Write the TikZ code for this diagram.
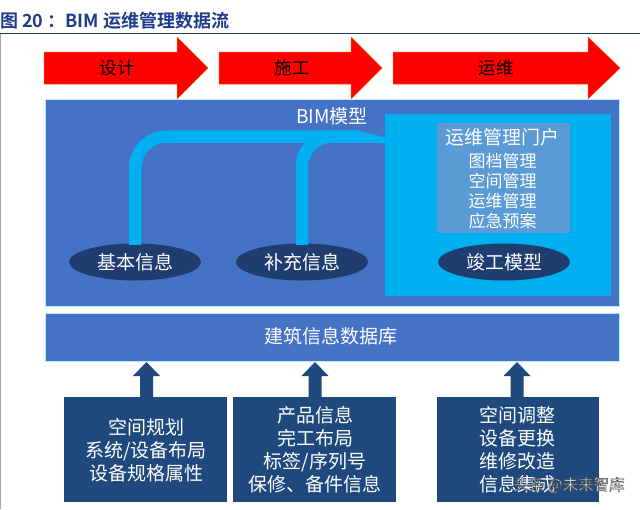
\documentclass[tikz,border=0pt]{standalone}
\usepackage{fontspec}
\setmainfont{Noto Sans CJK SC}[BoldFont={Noto Sans CJK SC Bold}]
\usetikzlibrary{shapes.geometric}
\definecolor{boxblue}{HTML}{4472C4}
\definecolor{cyanbox}{HTML}{00B0F0}
\definecolor{panel}{HTML}{5B9BD5}
\definecolor{navyell}{HTML}{1F3E6F}
\definecolor{navybox}{HTML}{1F497D}
\definecolor{titleblue}{HTML}{1F3C8C}
\definecolor{rulenavy}{HTML}{1F3864}
\definecolor{arrowred}{HTML}{FF0000}
\newcommand{\fs}[2]{\fontsize{#1}{#2}\selectfont}
\newcommand{\outlinedtext}[1]{\special{pdf:literal 0.25 0.25 0.25 RG 0.45 w 2 Tr}#1\special{pdf:literal 0 Tr}}
\tikzset{
  phase/.style={fill=arrowred, draw=orange!70!red, line width=0.5pt},
  phaselabel/.style={text=black, font=\fs{17.5}{20}},
  infoell/.style={ellipse, fill=navyell, minimum width=132pt, minimum height=37pt, inner sep=0pt, text=white, font=\fs{19}{20}},
  pipe/.style={draw=cyanbox, line width=12.5pt},
  srcbox/.style={rectangle, fill=navybox, inner sep=0pt},
  srctext/.style={text=white, align=center, font=\fs{19}{23}},
  uparrow/.style={fill=navybox},
}
\begin{document}
\begin{tikzpicture}[x=1pt,y=-1pt]
\useasboundingbox (0,0) rectangle (640,509);
\fill[white] (0,0) rectangle (640,509);
% title
\node[anchor=west, inner sep=0pt, text=titleblue, font=\bfseries\fs{18}{20}] (title) at (0,21) {图 20 ：BIM 运维管理数据流};
\draw[rulenavy, line width=1.3pt] (0,33.5) -- (640,33.5);
\draw[gray!70, line width=0.8pt] (0.4,33.5) -- (0.4,509);
% phase arrows
\fill[phase] (44,52) -- (177,52) -- (177,37) -- (208,68) -- (177,99) -- (177,84) -- (44,84) -- cycle;
\node[phaselabel] (p1) at (117,68) {设计};
\fill[phase] (219,52) -- (351,52) -- (351,37) -- (382,68) -- (351,99) -- (351,84) -- (219,84) -- cycle;
\node[phaselabel] (p2) at (292,68) {施工};
\fill[phase] (393,52) -- (588,52) -- (588,37) -- (620,68) -- (588,99) -- (588,84) -- (393,84) -- cycle;
\node[phaselabel] (p3) at (496,68) {运维};
% BIM model box
\node[rectangle, fill=boxblue, draw=blue!20!cyan!30, line width=0.6pt, minimum width=574pt, minimum height=207pt, inner sep=0pt, anchor=north west] (bim) at (44.5,99) {};
\node[text=white, font=\fs{19}{20}] (bimlabel) at (332,116) {BIM模型};
% cyan box
\node[rectangle, fill=cyanbox, minimum width=226pt, minimum height=182pt, inner sep=0pt, anchor=north west] (jg) at (385,114) {};
\node[rectangle, fill=panel, minimum width=133pt, minimum height=110pt, inner sep=0pt, anchor=north west] (portal) at (436.5,123) {};
\node[text=white, font=\fs{19}{20}] (portalhead) at (502.5,137.5) {运维管理门户};
\node[text=white, align=center, font=\fs{17}{20}] (portalitems) at (502.5,191) {图档管理\\空间管理\\运维管理\\应急预案};
% ellipses
\node[infoell] (jb) at (135,262) {基本信息};
\node[infoell] (bc) at (302,262) {补充信息};
\node[infoell] (jgmx) at (504,262) {竣工模型};
% pipes
\coordinate (tip) at (358,136.5);
\draw[pipe, rounded corners=32pt] ([yshift=-1.5pt]jb.north) |- (tip);
\draw[pipe, rounded corners=30pt] ([yshift=-1.5pt]bc.north) |- (tip);
\fill[cyanbox] (357,130.25) -- (386,137.5) -- (386,142.75) -- (357,142.75) -- cycle;
% database
\node[rectangle, fill=boxblue, draw=blue!20!cyan!30, line width=0.6pt, minimum width=574pt, minimum height=48.5pt, inner sep=0pt, anchor=north west] (db) at (44.5,312.5) {};
\node[text=white, font=\fs{19}{20}] (dblabel) at (331,336.5) {建筑信息数据库};
% source boxes
\node[srcbox, minimum width=163pt, minimum height=105pt, anchor=north west] (s1) at (64,397) {};
\node[srcbox, minimum width=163pt, minimum height=105pt, anchor=north west] (s2) at (233,397) {};
\node[srcbox, minimum width=162pt, minimum height=105pt, anchor=north west] (s3) at (436.5,397) {};
\node[srctext] (t1) at (146,450.5) {空间规划\\系统/设备布局\\设备规格属性};
\node[srctext] (t2) at (315,449.5) {产品信息\\完工布局\\标签/序列号\\保修、备件信息};
\node[srctext] (t3) at (517,449.5) {空间调整\\设备更换\\维修改造\\信息集成};
% up arrows
\foreach \b/\cx in {s1/146.5, s2/315, s3/517} {
  \fill[uparrow] (\cx,362) -- (\cx+13.5,376) -- (\cx+6.5,376) -- (\cx+6.5,397.5) -- (\cx-6.5,397.5) -- (\cx-6.5,376) -- (\cx-13.5,376) -- cycle;
}
% watermark
\node[anchor=west, text=white, font=\fs{15.5}{16}] (wm) at (510,485) {\outlinedtext{头条 @未来智库}};
\end{tikzpicture}
\end{document}
